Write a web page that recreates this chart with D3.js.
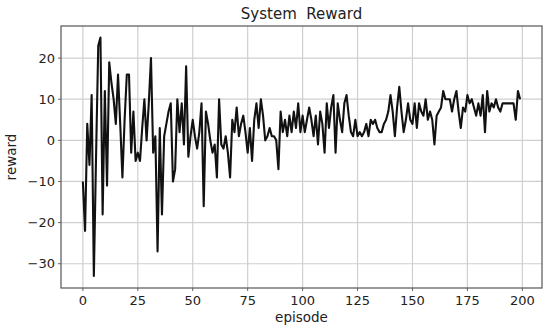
<!DOCTYPE html>
<html>
<head>
<meta charset="utf-8">
<script src="https://cdn.jsdelivr.net/npm/d3@7"></script>
<style>
  html, body { margin: 0; padding: 0; background: #fff; overflow: hidden; }
  svg { display: block; }
  text { font-family: "DejaVu Sans", sans-serif; fill: #222; }
</style>
</head>
<body>
<svg width="550" height="331"></svg>
<script>
// reward per episode
const rewards = [
  -10, -22, 4, -6, 11, -33, -4, 23, 25, -18,
  12, -11, 19, 14, 10, 4, 16, 4, -9, 5,
  16, 16, -3, 7, -5, -3, -5, 3, 10, 0,
  9, 20, -3, 1, -27, 3, -18, 1, 4, 7,
  9, -10, -7, 10, 2, 9, -1, 18, -4, 1,
  5, 1, -2, 2, 9, -16, 7, 4, 0, -3,
  -1, -9, 10, -1, -2, 1, -3, -9, 5, 2,
  8, 1, 4, 6, 2, -3, 3, -5, 5, 9,
  3, 10, 6, 0, 1, 3, 1, 1, 0, -7,
  7, 2, 5, 1, 6, 2, 7, 3, 9, 2,
  6, 2, 5, 8, 5, 1, 6, -1, 7, 4,
  -3, 9, 3, 8, 11, -3, 9, 5, 2, 9,
  11, 6, 2, 1, 5, 1, 2, 1, 2, 4,
  1, 5, 4, 5, 3, 2, 2, 4, 5, 7,
  11, 7, 1, 8, 13, 7, 2, 5, 9, 5,
  4, 9, 3, 9, 7, 6, 10, 5, 7, 5,
  -1, 6, 7, 8, 12, 10, 10, 10, 7, 10,
  12, 7, 3, 8, 7, 11, 9, 10, 8, 6,
  9, 6, 11, 2, 12, 7, 9, 8, 10, 8,
  7, 9, 9, 9, 9, 9, 9, 5, 12, 10
];
const xTicks = [0, 25, 50, 75, 100, 125, 150, 175, 200];
const yTicks = [-30, -20, -10, 0, 10, 20];

const svg = d3.select('svg');
const margin = { top: 26, right: 8, bottom: 43, left: 61 };
const height = +svg.attr('height');
const innerWidth = 542 - margin.left;
const innerHeight = height - margin.top - margin.bottom;

const data = rewards.map((r, i) => ({ episode: i, reward: r }));

const xScale = d3.scaleLinear()
  .domain([-9.95, 208.95])
  .range([0, innerWidth]);

const yScale = d3.scaleLinear()
  .domain([-35.9, 27.8])
  .range([innerHeight, 0]);

const g = svg.append('g')
  .attr('transform', `translate(${margin.left},${margin.top})`);

// grid
g.append('g').selectAll('line').data(xTicks).enter().append('line')
  .attr('x1', d => xScale(d)).attr('x2', d => xScale(d))
  .attr('y1', 0).attr('y2', innerHeight)
  .attr('stroke', '#cfcfcf').attr('stroke-width', 1.2);

g.append('g').selectAll('line').data(yTicks).enter().append('line')
  .attr('y1', d => yScale(d)).attr('y2', d => yScale(d))
  .attr('x1', 0).attr('x2', innerWidth)
  .attr('stroke', '#cfcfcf').attr('stroke-width', 1.2);

// tick marks + labels
const fmt = d => d < 0 ? '\u2212' + Math.abs(d) : String(d);

g.append('g').selectAll('line').data(xTicks).enter().append('line')
  .attr('x1', d => xScale(d)).attr('x2', d => xScale(d))
  .attr('y1', innerHeight).attr('y2', innerHeight + 3)
  .attr('stroke', '#666');
g.append('g').selectAll('text').data(xTicks).enter().append('text')
  .attr('x', d => xScale(d))
  .attr('y', innerHeight + 17)
  .attr('text-anchor', 'middle')
  .style('font-size', '13px')
  .text(fmt);

g.append('g').selectAll('line').data(yTicks).enter().append('line')
  .attr('y1', d => yScale(d)).attr('y2', d => yScale(d))
  .attr('x1', -3).attr('x2', 0)
  .attr('stroke', '#666');
g.append('g').selectAll('text').data(yTicks).enter().append('text')
  .attr('x', -6)
  .attr('y', d => yScale(d) + 4.5)
  .attr('text-anchor', 'end')
  .style('font-size', '13px')
  .text(fmt);

// line
const line = d3.line()
  .x(d => xScale(d.episode))
  .y(d => yScale(d.reward));

g.append('path')
  .datum(data)
  .attr('fill', 'none')
  .attr('stroke', '#111')
  .attr('stroke-width', 2.1)
  .attr('stroke-linejoin', 'round')
  .attr('d', line);

// frame
g.append('rect')
  .attr('width', innerWidth)
  .attr('height', innerHeight)
  .attr('fill', 'none')
  .attr('stroke', '#555')
  .attr('stroke-width', 1.2);

// labels
svg.append('text')
  .attr('x', margin.left + innerWidth / 2)
  .attr('y', 19)
  .attr('text-anchor', 'middle')
  .style('font-size', '15px')
  .style('white-space', 'pre')
  .text('System  Reward');

svg.append('text')
  .attr('x', margin.left + innerWidth / 2)
  .attr('y', 322)
  .attr('text-anchor', 'middle')
  .style('font-size', '13.5px')
  .text('episode');

svg.append('text')
  .attr('transform', `translate(16,${margin.top + innerHeight / 2}) rotate(-90)`)
  .attr('text-anchor', 'middle')
  .style('font-size', '13.5px')
  .text('reward');
</script>
</body>
</html>
